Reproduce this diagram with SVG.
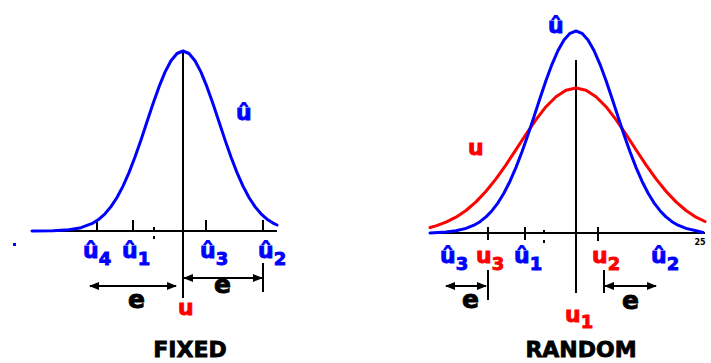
<svg xmlns="http://www.w3.org/2000/svg" width="711" height="363" viewBox="0 0 711 363">
<defs>
<marker id="ah" viewBox="0 0 10 8" refX="9" refY="4" markerWidth="10" markerHeight="8" markerUnits="userSpaceOnUse" orient="auto-start-reverse">
<path d="M0,0 L10,4 L0,8 z" fill="#000"/>
</marker>
</defs>
<style>
.ax{stroke:#000;stroke-width:2;fill:none}
.arr{stroke:#000;stroke-width:2;fill:none;marker-start:url(#ah);marker-end:url(#ah)}
.cb{stroke:#0000ff;stroke-width:3;fill:none;stroke-linejoin:round;stroke-linecap:round}
.cr{stroke:#ff0000;stroke-width:3;fill:none;stroke-linejoin:round;stroke-linecap:round}
text{font-family:"DejaVu Sans","Verdana",sans-serif;font-weight:bold}
.lb{font-size:22px;stroke-width:0.9px}
.sb{font-size:18px}
.b{fill:#0000ff;stroke:#0000ff}
.r{fill:#ff0000;stroke:#ff0000}
.e{font-size:25px;fill:#000;stroke:#000;stroke-width:0.9px;text-anchor:middle}
.t{font-size:22px;fill:#000;stroke:#000;stroke-width:0.8px;text-anchor:middle}
</style>

<g id="fixed-panel">
<g id="fixed-axis">
<line class="ax" x1="32" y1="231" x2="277" y2="231"/>
<line class="ax" x1="183" y1="51" x2="183" y2="298"/>
<line class="ax" x1="97" y1="220" x2="97" y2="231"/>
<line class="ax" x1="133" y1="220" x2="133" y2="231"/>
<line class="ax" x1="206" y1="220" x2="206" y2="231"/>
<line class="ax" x1="263" y1="220" x2="263" y2="231"/>
<line class="ax" x1="154" y1="227" x2="154" y2="231"/>
<rect x="153" y="236" width="2" height="3" fill="#000"/>
<rect x="13" y="243" width="3" height="3" fill="#0000ff"/>
</g>
<polyline id="fixed-curve" class="cb" points="32,231 53,230.8 69,229.8 81,227.7 93,223.1 99,219.2 105,213.8 111,206.6 117,197.5 123,186.1 129,172.6 135,157 141,139.9 147,121.8 153,103.8 159,86.9 165,72.1 171,60.7 177,53.5 183,51 189,53.5 195,60.7 201,72.1 207,86.9 213,103.8 219,121.8 225,139.9 231,157 237,172.6 243,186.1 249,197.5 255,206.6 261,213.8 267,219.2 273,223.1 277,225"/>
<g id="fixed-labels">
<text class="lb b" x="236" y="120">û</text>
<text class="lb b" x="83" y="258">û<tspan class="sb" dy="7">4</tspan></text>
<text class="lb b" x="122" y="258">û<tspan class="sb" dy="7">1</tspan></text>
<text class="lb b" x="200" y="258">û<tspan class="sb" dy="7">3</tspan></text>
<text class="lb b" x="258" y="258">û<tspan class="sb" dy="7">2</tspan></text>
<text class="lb r" x="178" y="315">u</text>
</g>
<g id="fixed-errors">
<line class="arr" x1="90" y1="286" x2="176" y2="286"/>
<line class="arr" x1="184" y1="278" x2="262" y2="278"/>
<line class="ax" x1="263" y1="263" x2="263" y2="292"/>
<text class="e" x="136.5" y="308">e</text>
<text class="e" x="222.5" y="293">e</text>
</g>
<text class="t" x="190" y="357">FIXED</text>
</g>

<g id="random-panel">
<g id="random-axis">
<line class="ax" x1="430" y1="233" x2="705" y2="233"/>
<line class="ax" x1="576" y1="60" x2="576" y2="293"/>
<line class="ax" x1="488" y1="227" x2="488" y2="240"/>
<line class="ax" x1="525" y1="227" x2="525" y2="240"/>
<line class="ax" x1="598" y1="227" x2="598" y2="241"/>
<line class="ax" x1="544" y1="230" x2="544" y2="234"/>
<rect x="543" y="240" width="2" height="3" fill="#000"/>
<text x="700" y="245" font-size="8" fill="#000" text-anchor="middle">25</text>
</g>
<polyline id="random-u" class="cr" points="430,227.5 436,225.9 446,222.2 456,217.2 466,210.5 476,201.9 486,191.3 496,178.9 506,164.8 516,149.7 526,134.3 536,119.7 546,106.7 556,96.7 566,90.2 576,88 586,90.2 596,96.7 606,106.7 616,119.7 626,134.3 636,149.7 646,164.8 656,178.9 666,191.3 676,201.9 686,210.5 696,217.2 705,221.5"/>
<polyline id="random-uhat" class="cb" points="430,233 446,232 456,230.8 466,228.4 474,225.2 480,221.7 486,216.9 492,210.7 498,202.8 504,193 510,181.2 516,167.4 522,151.8 528,134.7 534,116.6 540,98.3 546,80.5 552,64.3 558,50.5 564,39.9 570,33.3 576,31 582,33.3 588,39.9 594,50.5 600,64.3 606,80.5 612,98.3 618,116.6 624,134.7 630,151.8 636,167.4 642,181.2 648,193 654,202.8 660,210.7 666,216.9 672,221.7 678,225.2 686,228.4 696,230.8 703,232.5"/>
<g id="random-labels">
<text class="lb b" x="548" y="33">û</text>
<text class="lb r" x="468" y="155">u</text>
<text class="lb b" x="440" y="263">û<tspan class="sb" dy="7">3</tspan></text>
<text class="lb r" x="476" y="263">u<tspan class="sb" dy="7">3</tspan></text>
<text class="lb b" x="514" y="263">û<tspan class="sb" dy="7">1</tspan></text>
<text class="lb r" x="592" y="263">u<tspan class="sb" dy="7">2</tspan></text>
<text class="lb b" x="651" y="263">û<tspan class="sb" dy="7">2</tspan></text>
<text class="lb r" x="565" y="322">u<tspan class="sb" dy="6">1</tspan></text>
</g>
<g id="random-errors">
<line class="arr" x1="446" y1="286" x2="486" y2="286"/>
<line class="ax" x1="488" y1="270" x2="488" y2="300"/>
<line class="arr" x1="605" y1="286" x2="656" y2="286"/>
<line class="ax" x1="604" y1="270" x2="604" y2="293"/>
<text class="e" x="470.5" y="308">e</text>
<text class="e" x="630.5" y="309">e</text>
</g>
<text class="t" x="581" y="357">RANDOM</text>
</g>
</svg>
